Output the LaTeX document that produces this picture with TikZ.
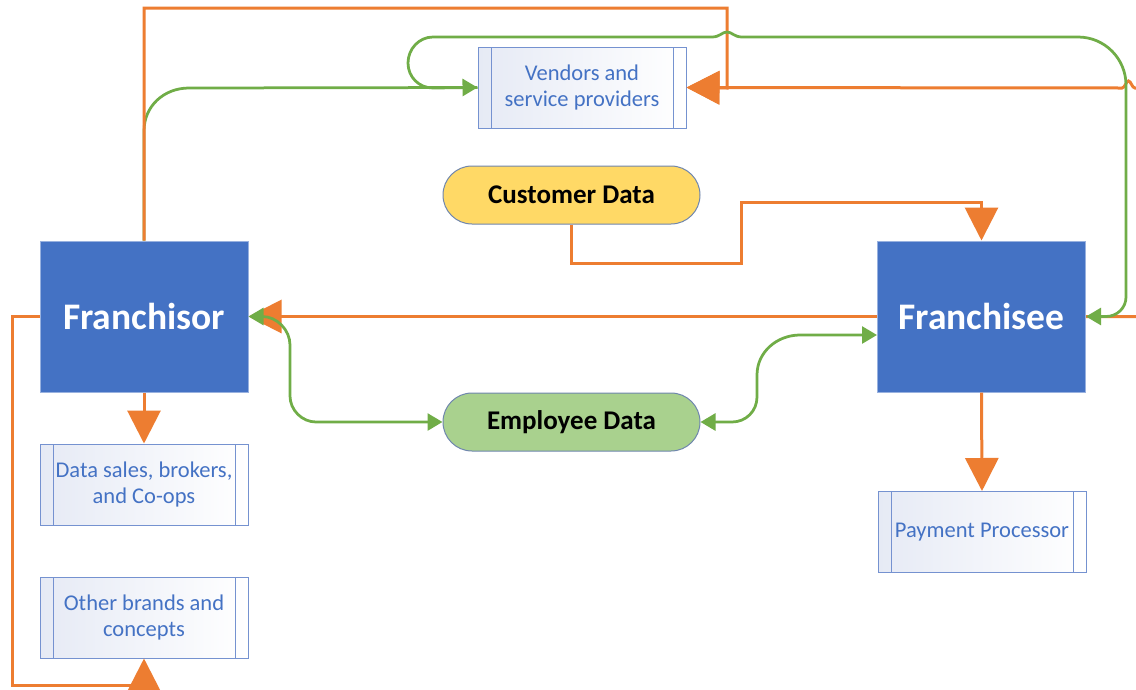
\documentclass[tikz,border=0pt]{standalone}
\usepackage{fontspec}
\setmainfont{Carlito}
\usetikzlibrary{arrows.meta}
\definecolor{orng}{HTML}{ED7D31}
\definecolor{grn}{HTML}{70AD47}
\definecolor{blu}{HTML}{4472C4}
\definecolor{ylw}{HTML}{FFD966}
\definecolor{lgrn}{HTML}{A9D18E}
\definecolor{subedge}{HTML}{7592D0}
\definecolor{subfill}{HTML}{E6EAF5}
\definecolor{dataedge}{HTML}{6F86AE}
\begin{document}
\begin{tikzpicture}[x=1pt,y=-1pt,
  mainbox/.style={draw=blu!55, line width=1pt, fill=blu, text=white,
    font=\fontsize{37.5}{42}\selectfont\bfseries,
    minimum width=208pt, minimum height=151pt, inner sep=0pt},
  subproc/.style={draw=subedge, line width=1pt, left color=subfill, right color=white,
    text=blu, font=\fontsize{22.5}{25.5}\selectfont, align=center,
    minimum width=208pt, minimum height=81pt, inner sep=0pt,
    path picture={
      \draw[subedge,line width=1pt] ([xshift=13pt]path picture bounding box.north west) -- ([xshift=13pt]path picture bounding box.south west);
      \draw[subedge,line width=1pt] ([xshift=-13pt]path picture bounding box.north east) -- ([xshift=-13pt]path picture bounding box.south east);}},
  datanode/.style={draw=dataedge, line width=1pt, rounded corners=29pt,
    minimum width=257pt, minimum height=58pt, inner sep=0pt,
    font=\fontsize{27}{31}\selectfont\bfseries, text=black},
  oline/.style={orng, line width=3pt},
  oarrow/.style={oline, -{Triangle[length=33pt,width=33pt]}},
  gline/.style={grn, line width=2.75pt},
  garrow/.style={gline, -{Triangle[length=15pt,width=17pt]}},
  gdarrow/.style={gline, {Triangle[length=15pt,width=17pt]}-{Triangle[length=15pt,width=17pt]}},
]
\useasboundingbox (0,0) rectangle (1136,689);
\clip (0,0) rectangle (1136,689);
\fill[white] (0,0) rectangle (1136,689);

% nodes
\node[mainbox] (franchisor) at (144,316.5) {Franchisor};
\node[mainbox] (franchisee) at (981.5,316.5) {Franchisee};
\node[subproc] (vendors) at (582,87.5) {Vendors and\\service providers};
\node[subproc] (datasales) at (144,484.5) {Data sales, brokers,\\and Co-ops};
\node[subproc] (other) at (144,617.5) {Other brands and\\concepts};
\node[subproc] (payment) at (982,532) {Payment Processor};
\node[datanode, fill=ylw] (customer) at (571.5,195) {Customer Data};
\node[datanode, fill=lgrn] (employee) at (571.5,422) {Employee Data};
\coordinate (otherin) at (144,700);

% green connector under the orange one
\draw[garrow] (franchisor.north) -- (144,131) .. controls (144,106) and (164,88) .. (189,88) -- (vendors.west);

% orange connectors
\draw[oarrow] (franchisor.north) -- (144,8) -- (727,8) -- (727,88) -- (vendors.east);
\draw[oarrow] (franchisee.east) -- (1150,316.5) -- (1150,88) -- (1135,88)
  .. controls (1132,88) and (1131,81) .. (1128.5,81)
  .. controls (1126,81) and (1125,88) .. (1122,88) -- (vendors.east);
\draw[oarrow] (franchisee.west) -- (franchisor.east);
\draw[oarrow] (franchisor.south) -- (datasales.north);
\draw[oarrow] (franchisee.south) -- (payment.north);
\draw[oarrow] (customer.south) -- (571.5,263) -- (741,263) -- (741,202) -- (981.5,202) -- (franchisee.north);
\draw[oline] (franchisor.west) -- (12,316.5) -- (12,685) -- (144,685);
\draw[oarrow] (otherin) -- (other.south);

% green connectors
\draw[garrow] (vendors.west) -- (433,88) .. controls (419,88) and (408,77) .. (408,63)
  .. controls (408,49) and (419,37) .. (433,37) -- (712,37)
  .. controls (720,37) and (722,32) .. (727,32)
  .. controls (732,32) and (734,37) .. (742,37) -- (1078,37)
  .. controls (1105,37) and (1126,59) .. (1126,85) -- (1126,297)
  .. controls (1126,308) and (1117,316.5) .. (1106,316.5) -- (franchisee.east);
\draw[gdarrow] (franchisor.east) -- (262,316.5) .. controls (277,316.5) and (290,330) .. (290,345)
  -- (290,396) .. controls (290,410) and (302,422) .. (316,422) -- (employee.west);
\draw[gdarrow] (employee.east) -- (732,422) .. controls (746,422) and (757,411) .. (757,397)
  -- (757,375) .. controls (757,352) and (777,335) .. (800,335) -- ([yshift=-18.5pt]franchisee.west);
\end{tikzpicture}
\end{document}
